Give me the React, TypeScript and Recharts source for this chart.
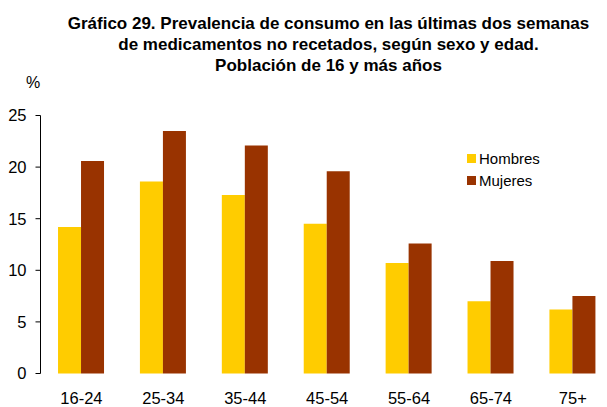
import React from "react";
import { BarChart, Bar, XAxis, YAxis, Legend } from "recharts";

const categories = ["16-24", "25-34", "35-44", "45-54", "55-64", "65-74", "75+"];
const hombres = [14.2, 18.6, 17.3, 14.5, 10.7, 7.0, 6.2];
const mujeres = [20.6, 23.5, 22.1, 19.6, 12.6, 10.9, 7.5];
const yTicks = [0, 5, 10, 15, 20, 25];
const edgeTicks = [0, 1, 2, 3, 4, 5, 6, 7];

const data = categories.map((c, i) => ({ cat: c, idx: i + 0.5, Hombres: hombres[i], Mujeres: mujeres[i] }));

const FONT = "'Liberation Sans', Arial, sans-serif";

const renderLegend = (props: any) => {
  const { payload } = props;
  return (
    <div style={{ fontFamily: FONT, fontSize: 15, color: "#000" }}>
      {payload.map((p: any) => (
        <div key={p.value} style={{ display: "flex", alignItems: "center", height: 22.5 }}>
          <span style={{ display: "inline-block", width: 9, height: 9, background: p.color, marginRight: 3 }} />
          <span>{p.value}</span>
        </div>
      ))}
    </div>
  );
};

export default function App() {
  return (
    <div style={{ position: "absolute", left: 0, top: 0, width: 607, height: 407, overflow: "hidden", background: "#fff", fontFamily: FONT }}>
      <div style={{ position: "absolute", left: 28, top: 12.5, width: 601, textAlign: "center", fontWeight: "bold", fontSize: 17, lineHeight: "21px", color: "#000", whiteSpace: "nowrap" }}>
        Gráfico 29. Prevalencia de consumo en las últimas dos semanas<br />
        de medicamentos no recetados, según sexo y edad.<br />
        Población de 16 y más años
      </div>
      <div style={{ position: "absolute", left: 26, top: 74, fontSize: 16, color: "#000" }}>%</div>
      <BarChart
        width={616}
        height={407}
        data={data}
        margin={{ top: 115.5, right: 2.2, bottom: 3.5, left: 0.5 }}
        barGap={0}
        barCategoryGap="21.4%"
      >
        <XAxis
          xAxisId="edges"
          type="number"
          dataKey="idx"
          domain={[0, 7]}
          ticks={edgeTicks}
          tick={false}
          tickSize={5}
          height={0}
          axisLine={{ stroke: "#000" }}
          tickLine={{ stroke: "#000" }}
          allowDataOverflow
        />
        <XAxis
          dataKey="cat"
          height={30}
          axisLine={false}
          tickLine={false}
          tickSize={5}
          tickMargin={14}
          tick={{ fill: "#000", fontSize: 16.5, fontFamily: FONT }}
          interval={0}
        />
        <YAxis
          width={40}
          domain={[0, 25]}
          ticks={yTicks}
          tickSize={5}
          tickMargin={9}
          axisLine={{ stroke: "#000" }}
          tickLine={{ stroke: "#000" }}
          tick={{ fill: "#000", fontSize: 16.5, fontFamily: FONT }}
          interval={0}
        />
        <Legend
          layout="vertical"
          verticalAlign="middle"
          align="center"
          content={renderLegend}
          wrapperStyle={{ left: 467, top: 147, width: 100 }}
        />
        <Bar dataKey="Hombres" fill="#FFCC00" isAnimationActive={false} />
        <Bar dataKey="Mujeres" fill="#993300" isAnimationActive={false} />
      </BarChart>
    </div>
  );
}
